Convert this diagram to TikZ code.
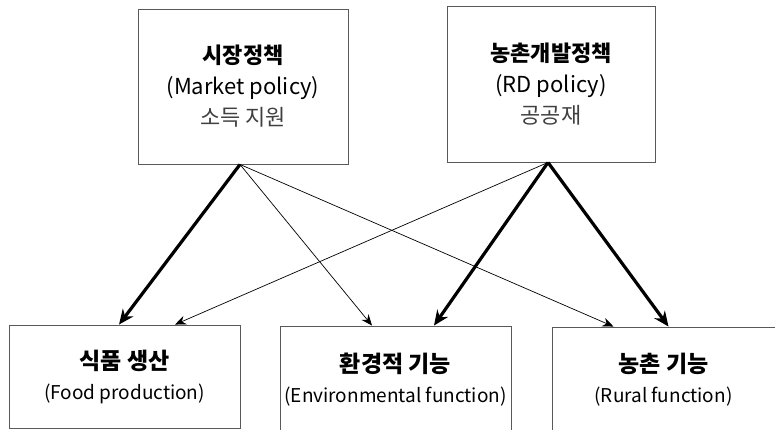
\documentclass[tikz,border=0pt]{standalone}
\usepackage{fontspec}
\setmainfont{Noto Sans CJK KR}
\usetikzlibrary{arrows.meta}

\begin{document}
\begin{tikzpicture}[x=1pt,y=-1pt,
  box/.style={draw=black!65, line width=0.9pt, align=center, inner sep=0pt},
  top/.style={box, font=\fontsize{22}{31}\selectfont},
  low/.style={box, font=\fontsize{19}{30}\selectfont},
  big/.style={font=\fontsize{23}{30}\selectfont\bfseries},
  weak/.style={-{Stealth[length=11pt,width=9pt]}, line width=0.7pt},
  strong/.style={-{Stealth[length=15pt,width=13pt]}, line width=3.2pt}]
  \useasboundingbox (0,0) rectangle (775,430);

  \node[top, minimum width=210, minimum height=155] (market) at (243,86.5)
    {\textbf{시장정책}\\(Market policy)\\\textcolor{black!75}{소득 지원}};
  \node[top, minimum width=208, minimum height=156] (rd) at (551,84)
    {\textbf{농촌개발정책}\\(RD policy)\\\textcolor{black!75}{공공재}};

  \node[low, minimum width=231, minimum height=103] (food) at (124.5,376.5)
    {{\fontsize{23}{30}\selectfont\bfseries 식품 생산}\\(Food production)};
  \node[low, minimum width=231, minimum height=108] (env) at (395.5,380)
    {{\fontsize{23}{30}\selectfont\bfseries 환경적 기능}\\(Environmental function)};
  \node[low, minimum width=223, minimum height=106] (rural) at (663.5,380)
    {{\fontsize{23}{30}\selectfont\bfseries 농촌 기능}\\(Rural function)};

  \draw[strong] ([xshift=-3]market.south) -- ([xshift=-5.5]food.north);
  \draw[weak] ([xshift=-3]market.south) -- ([xshift=-23.5]env.north);
  \draw[weak] ([xshift=-3]market.south) -- ([xshift=-50]rural.north);

  \draw[weak] ([xshift=-3]rd.south) -- ([xshift=50.5]food.north);
  \draw[strong] ([xshift=-3]rd.south) -- ([xshift=38.5]env.north);
  \draw[strong] ([xshift=-3]rd.south) -- ([xshift=5]rural.north);
\end{tikzpicture}
\end{document}
